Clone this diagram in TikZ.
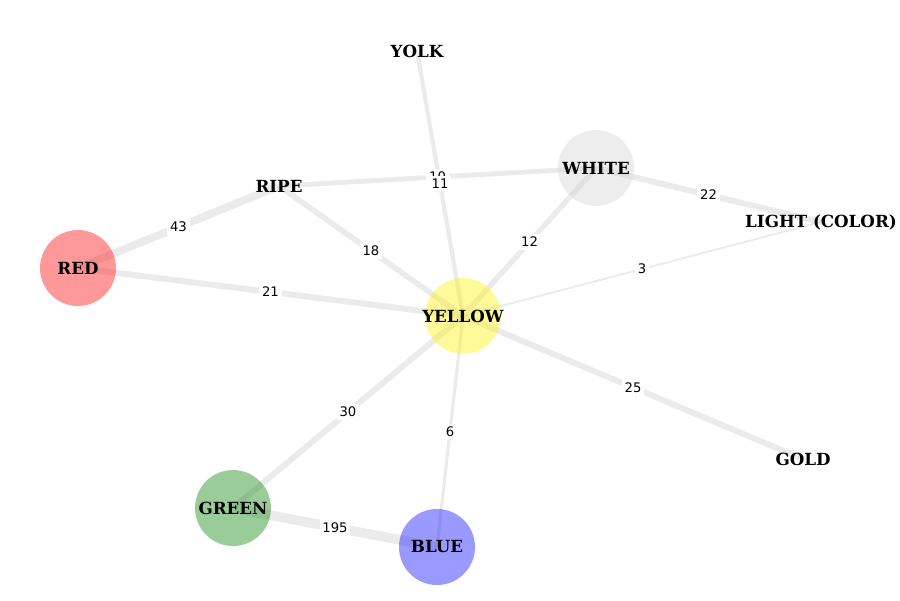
\documentclass[tikz,border=0pt]{standalone}
\usepackage{fontspec}
\setmainfont{DejaVu Serif}
\newfontfamily\edgefont{DejaVu Sans}
\definecolor{linkgray}{RGB}{211,211,211}
\definecolor{mplgreen}{RGB}{0,128,0}

\begin{document}
\begin{tikzpicture}[x=0.02cm, y=-0.02cm,
		vertex/.style={circle, minimum size=1.52cm, inner sep=0pt, fill opacity=.4},
		term/.style={inner sep=1pt, text opacity=1, font=\fontsize{9.5}{11}\selectfont\bfseries},
		every label/.style={term},
		link/.style={draw=linkgray, draw opacity=.45},
		weight/.style={fill=white, inner sep=1.5pt, font=\fontsize{7.5}{9}\edgefont}]
		\useasboundingbox (0,0) rectangle (900,600);
		% Knoten-Positionen
		\coordinate (pyolk) at (417,51);
		\coordinate (pwhite) at (596,168);
		\coordinate (pripe) at (279,186);
		\coordinate (plight) at (821,222);
		\coordinate (pred) at (78,268);
		\coordinate (pyellow) at (463,316);
		\coordinate (pgreen) at (233,508);
		\coordinate (pblue) at (437,547);
		\coordinate (pgold) at (803,459);
		% Kanten
		\draw[link, line width=4.5pt] (pred) to (pripe);
		\draw[link, line width=3.4pt] (pred) to (pyellow);
		\draw[link, line width=3.2pt] (pripe) to (pyellow);
		\draw[link, line width=2.8pt] (pripe) to (pwhite);
		\draw[link, line width=2.4pt] (pyolk) to (pyellow);
		\draw[link, line width=3pt] (pwhite) to (pyellow);
		\draw[link, line width=3.4pt] (pwhite) to (plight);
		\draw[link, line width=1.1pt] (pyellow) to (plight);
		\draw[link, line width=3.4pt] (pyellow) to (pgold);
		\draw[link, line width=3.4pt] (pyellow) to (pgreen);
		\draw[link, line width=1.8pt] (pyellow) to (pblue);
		\draw[link, line width=5.5pt] (pgreen) to (pblue);
		% Knoten
		\node (white) at (pwhite) [vertex, fill=linkgray, label=center:WHITE] {};
		\node (red) at (pred) [vertex, fill=red, label=center:RED] {};
		\node (yellow) at (pyellow) [vertex, fill=yellow, label=center:YELLOW] {};
		\node (green) at (pgreen) [vertex, fill=mplgreen, label=center:GREEN] {};
		\node (blue) at (pblue) [vertex, fill=blue, label=center:BLUE] {};
		\node (yolk) at (pyolk) [term] {YOLK};
		\node (ripe) at (pripe) [term] {RIPE};
		\node (light) at (plight) [term] {LIGHT (COLOR)};
		\node (gold) at (pgold) [term] {GOLD};
		% Gewichte
		\path (red.center) to node[weight] {43} (ripe.center);
		\path (red.center) to node[weight] {21} (yellow.center);
		\path (ripe.center) to node[weight] {18} (yellow.center);
		\path (ripe.center) to node[weight] {10} (white.center);
		\path (yolk.center) to node[weight] {11} (yellow.center);
		\path (white.center) to node[weight] {12} (yellow.center);
		\path (white.center) to node[weight] {22} (light.center);
		\path (yellow.center) to node[weight] {3} (light.center);
		\path (yellow.center) to node[weight] {25} (gold.center);
		\path (yellow.center) to node[weight] {30} (green.center);
		\path (yellow.center) to node[weight] {6} (blue.center);
		\path (green.center) to node[weight] {195} (blue.center);
	\end{tikzpicture}
\end{document}
